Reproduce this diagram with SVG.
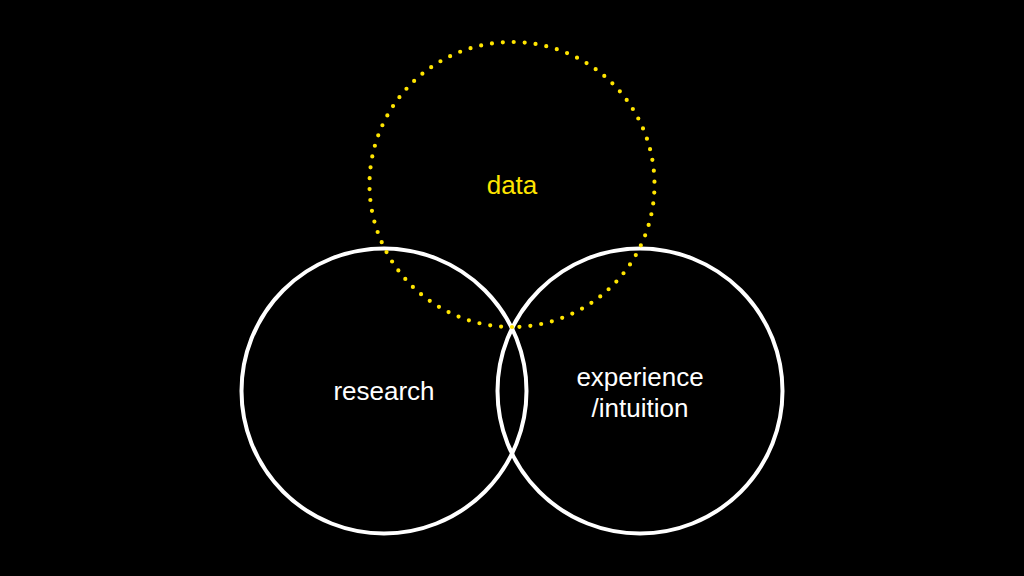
<svg xmlns="http://www.w3.org/2000/svg" width="1024" height="576" viewBox="0 0 1024 576">
<style>
.ring{fill:none;stroke:#fff;stroke-width:4}
.dots{fill:none;stroke:#FFE500;stroke-width:4.2;stroke-linecap:round;stroke-dasharray:0 10.957}
.lbl{font-family:"Liberation Sans",Arial,sans-serif;font-size:26px;text-anchor:middle;fill:#fff}
.y{fill:#FFE500}
</style>
<rect width="1024" height="576" fill="#000"/>
<g id="research">
<circle class="ring" cx="384" cy="391" r="142.5"/>
<text class="lbl" x="384" y="400" font-size="25">research</text>
</g>
<g id="experience">
<circle class="ring" cx="640" cy="391" r="142.5"/>
<text class="lbl" x="640" y="386">experience</text>
<text class="lbl" x="640" y="417">/intuition</text>
</g>
<g id="data">
<circle class="dots" cx="512" cy="184.5" r="142.5" transform="rotate(90 512 184.5)"/>
<text class="lbl y" x="512" y="194">data</text>
</g>
<g id="connectors"/>
</svg>
